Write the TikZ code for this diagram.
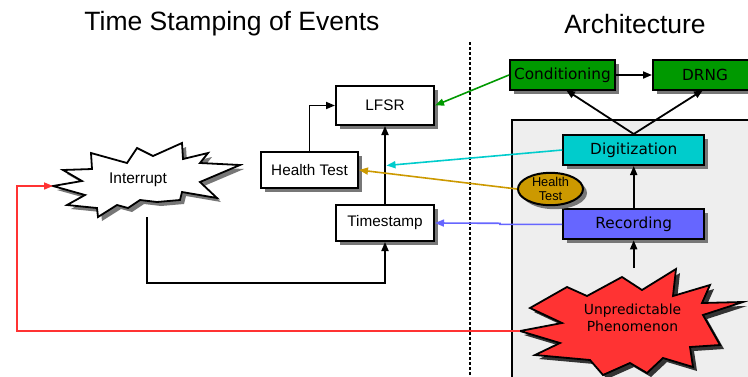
\documentclass[tikz,border=0pt]{standalone}
\usepackage{fontspec}
\setmainfont{Liberation Sans}
\newfontfamily\dejavu{DejaVu Sans}
\usetikzlibrary{arrows.meta,shadows,shapes.geometric}
\definecolor{cgreen}{HTML}{009900}
\definecolor{ccyan}{HTML}{00CCCC}
\definecolor{cblue}{HTML}{6666FF}
\definecolor{cgold}{HTML}{CC9900}
\definecolor{cred}{HTML}{FF3333}
\definecolor{cbg}{HTML}{EEEEEE}
\definecolor{cshadow}{HTML}{777777}
\tikzset{
  shad/.style={drop shadow={shadow xshift=4pt,shadow yshift=-4pt,fill=cshadow,opacity=1}},
  lbox/.style={draw,line width=2pt,fill=white,shad,inner sep=0pt,font=\fontsize{15.3}{17}\selectfont},
  abox/.style={draw,line width=2pt,shad,inner sep=0pt,minimum height=30pt,font=\dejavu\fontsize{15.3}{17}\selectfont},
  arr/.style={line width=1.8pt,-{Triangle[length=9pt,width=7pt]}},
  carr/.style={line width=1.6pt,-{Triangle[length=9pt,width=7pt]}},
  title/.style={font=\fontsize{26.5}{30}\selectfont},
}
\begin{document}
\begin{tikzpicture}[x=1pt,y=-1pt]
\useasboundingbox (0,0) rectangle (748,376);
% titles
\node[title] (t1) at (232,24) {Time Stamping of Events};
\node[title] (t2) at (635,24) {Architecture};
% dotted separator
\coordinate (sepT) at (470,42);
\coordinate (sepB) at (470,376);
\draw[line width=2pt,dash pattern=on 2.5pt off 2.5pt] (sepT) -- (sepB);
% gray architecture box
\fill[cbg] (512,120) rectangle (752,380);
\draw[line width=2pt] (512,380) -- (512,120) -- (752,120);
% left boxes
\node[lbox,minimum width=98pt,minimum height=39pt] (lfsr) at (385,105.5) {LFSR};
\node[lbox,minimum width=97pt,minimum height=36pt] (ht) at (309.5,170) {Health Test};
\node[lbox,minimum width=98pt,minimum height=36pt] (ts) at (385,223) {Timestamp};
% architecture boxes
\node[abox,fill=cgreen,minimum width=105pt] (cond) at (562.5,75) {Conditioning};
\node[abox,fill=cgreen,minimum width=104pt] (drng) at (705,75) {DRNG};
\node[abox,fill=ccyan,minimum width=141pt] (dig) at (633.7,150) {Digitization};
\node[abox,fill=cblue,minimum width=141pt] (rec) at (633.7,224.3) {Recording};
\node[ellipse,draw,line width=2pt,fill=cgold,shad,minimum width=65pt,minimum height=32pt,inner sep=0pt,align=center,font=\fontsize{12.8}{13.5}\selectfont] (hte) at (550.5,189) {Health\\Test};
% Interrupt starburst
\begin{scope}[shift={(4,4)}]
\fill[cshadow] (53,186)--(82,181)--(63,170)--(92,169)--(91,153)--(127,163)--(137,148)--(153,156)--(182,143)--(183,159)--(208,153)--(200,163)--(240,165)--(200,182)--(217,198)--(182,192)--(180,200)--(157,202)--(140,200)--(128,208)--(117,205)--(98,217)--(97,208)--(67,205)--(85,195)--cycle;
\end{scope}
\draw[line width=1.8pt,fill=white,line join=miter] (53,186)--(82,181)--(63,170)--(92,169)--(91,153)--(127,163)--(137,148)--(153,156)--(182,143)--(183,159)--(208,153)--(200,163)--(240,165)--(200,182)--(217,198)--(182,192)--(180,200)--(157,202)--(140,200)--(128,208)--(117,205)--(98,217)--(97,208)--(67,205)--(85,195)--cycle;
\node[font=\fontsize{15.5}{18}\selectfont] (intr) at (138,180) {Interrupt};
\coordinate (intL) at (53,186);
\coordinate (intB) at (147,217);
% Phenomenon starburst
\begin{scope}[shift={(4,4)}]
\fill[black!80] (520,331)--(562,323)--(530,308)--(567,287)--(587,296)--(622,277)--(642,290)--(676,269)--(673,296)--(710,285)--(702,303)--(743,302)--(703,315)--(720,345)--(690,347)--(693,367)--(663,358)--(647,373)--(630,363)--(603,375)--(590,360)--(535,355)--(560,343)--cycle;
\end{scope}
\draw[line width=1.8pt,fill=cred,line join=miter] (520,331)--(562,323)--(530,308)--(567,287)--(587,296)--(622,277)--(642,290)--(676,269)--(673,296)--(710,285)--(702,303)--(743,302)--(703,315)--(720,345)--(690,347)--(693,367)--(663,358)--(647,373)--(630,363)--(603,375)--(590,360)--(535,355)--(560,343)--cycle;
\node[align=center,font=\dejavu\fontsize{13.9}{17.5}\selectfont] (phen) at (632.5,318) {Unpredictable\\Phenomenon};
\coordinate (phL) at (520,331);
\coordinate (phT) at (633.7,268);
% black connectors
\draw[arr] (cond) -- (drng);
\draw[arr] (dig.north) -- (566,90);
\draw[arr] (dig.north) -- (703,90);
\draw[arr] (rec) -- (dig);
\draw[arr] (phT) -- (rec);
\draw[arr] (ts) -- (lfsr);
\draw[arr] (ht.north) |- (lfsr.west);
\draw[arr] (intB) |- (385,283) -- (ts.south);
% coloured connectors
\coordinate (tsmid) at (386.5,165.5);
\draw[carr,cgreen] (cond.west) -- (lfsr.east);
\draw[carr,ccyan] (dig.west) -- (tsmid);
\draw[carr,cgold] (hte.west) -- (ht.east);
\draw[carr,cblue] (rec.west) -- (500,224.3) -- (500,223.3) -- (ts.east);
\draw[carr,cred] (phL) -- (17,331) -- (17,186) -- (intL);
\end{tikzpicture}
\end{document}
